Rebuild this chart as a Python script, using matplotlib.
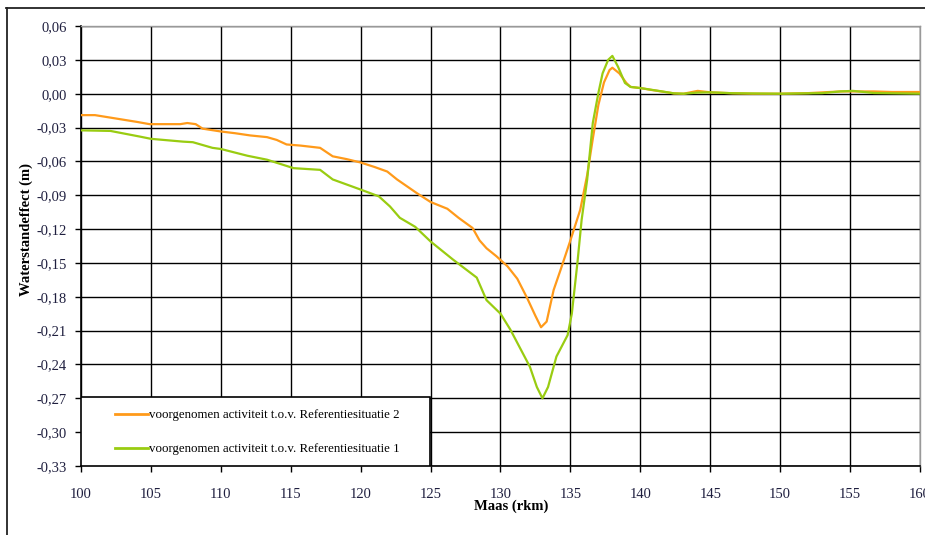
import matplotlib
matplotlib.use("Agg")
import matplotlib.pyplot as plt
from matplotlib.patches import Rectangle
from matplotlib.lines import Line2D
from matplotlib.ticker import FuncFormatter, MultipleLocator

# ---------------- data ----------------
km_ref2 = [100, 101, 102, 103, 104, 104.9, 106, 107.1, 107.6, 108.2, 108.7, 110, 111, 112.1,
           113.3, 114, 114.7, 115.7, 117.1, 118, 119, 120, 121, 121.9, 122.6, 123.3, 124,
           125, 126.2, 127, 128, 128.5, 129, 129.7, 130.5, 131.2, 131.9, 132.5, 132.9, 133.3,
           133.8, 134.3, 135, 135.7, 136.2, 136.6, 137, 137.4, 137.8, 138.0, 138.5, 139,
           139.3, 140, 140.8, 141.5, 142.4, 143.1, 144.1, 145, 146.6, 148, 150, 152, 154.3,
           155.2, 156.7, 158, 160]
wse_ref2 = [-0.019, -0.019, -0.021, -0.023, -0.025, -0.027, -0.027, -0.027, -0.026, -0.027,
            -0.031, -0.0335, -0.035, -0.037, -0.0385, -0.041, -0.045, -0.046, -0.048, -0.0555,
            -0.058, -0.061, -0.065, -0.069, -0.076, -0.082, -0.088, -0.096, -0.102, -0.110,
            -0.119, -0.130, -0.137, -0.144, -0.153, -0.164, -0.181, -0.197, -0.207, -0.202,
            -0.174, -0.156, -0.130, -0.103, -0.072, -0.040, -0.010, 0.010, 0.021, 0.023,
            0.018, 0.0095, 0.006, 0.005, 0.0033, 0.002, 0.0003, 0.0, 0.0025, 0.0012, 0.0004,
            0.0, 0.0, 0.0005, 0.002, 0.002, 0.002, 0.0015, 0.0015]

km_ref1 = [100, 102.1, 104.2, 105, 107.3, 108, 109.4, 110, 111.9, 113.3, 115.2, 117.1, 118,
           120, 121.3, 122.1, 122.8, 123.9, 125, 126.6, 128.3, 129, 130, 130.7, 132.1, 132.6,
           133.0, 133.4, 134, 134.8, 135.1, 135.5, 135.8, 136.2, 136.6, 137.0, 137.3, 137.7,
           138.0, 138.4, 138.9, 139.3, 140, 141.2, 142.4, 143.1, 144.1, 145, 146.6, 150, 153,
           154.3, 155.2, 156.7, 160]
wse_ref1 = [-0.0325, -0.033, -0.038, -0.040, -0.0425, -0.043, -0.048, -0.049, -0.055, -0.0585,
            -0.066, -0.0675, -0.076, -0.085, -0.091, -0.100, -0.110, -0.118, -0.131, -0.147,
            -0.163, -0.183, -0.195, -0.209, -0.242, -0.260, -0.270, -0.260, -0.233, -0.214,
            -0.195, -0.150, -0.112, -0.076, -0.026, 0.0006, 0.018, 0.030, 0.0335, 0.024,
            0.0095, 0.006, 0.005, 0.0027, 0.0003, 0.0, 0.001, 0.0012, 0.0004, 0.0, 0.0005,
            0.002, 0.0025, 0.0006, 0.0]

label_ref2 = "voorgenomen activiteit t.o.v. Referentiesituatie 2"
label_ref1 = "voorgenomen activiteit t.o.v. Referentiesituatie 1"
xlabel = "Maas (rkm)"
ylabel = "Waterstandeffect (m)"

# ---------------- style ----------------
plt.rcParams['font.family'] = ['Liberation Serif', 'DejaVu Serif']
c_orange = '#FF9A1A'
c_green = '#99CC11'
tick_col = '#1f1f3f'

fig = plt.figure(figsize=(9.25, 5.35), dpi=100)
ax = fig.add_axes([81 / 925, 1 - 466 / 535, (920 - 81) / 925, (466 - 26) / 535])

ax.plot(km_ref2, wse_ref2, color=c_orange, lw=1.6, zorder=4, solid_joinstyle='round')
ax.plot(km_ref1, wse_ref1, color=c_green, lw=1.6, zorder=4, solid_joinstyle='round')

ax.set_xlim(100, 160)
ax.set_ylim(-0.33, 0.06)
ax.xaxis.set_major_locator(MultipleLocator(5))
ax.yaxis.set_major_locator(MultipleLocator(0.03))
ax.yaxis.set_major_formatter(FuncFormatter(lambda v, p: f"{v:.2f}".replace('.', ',').replace('-0,00', '0,00')))
ax.xaxis.set_major_formatter(FuncFormatter(lambda v, p: f"{v:.0f}"))

ax.grid(True, color='black', lw=1.0, zorder=1)
ax.set_axisbelow(True)
for s in ['left', 'bottom']:
    ax.spines[s].set_color('black')
    ax.spines[s].set_linewidth(1.2)
for s in ['top', 'right']:
    ax.spines[s].set_color('#999999')
    ax.spines[s].set_linewidth(1.0)

ax.tick_params(axis='y', direction='out', length=4, width=1, pad=6, labelsize=10.5, labelcolor=tick_col)
ax.tick_params(axis='x', direction='out', length=4, width=1, pad=12, labelsize=10.5, labelcolor=tick_col)

ax.set_xlabel(xlabel, fontsize=10.5, fontweight='bold')
ax.set_ylabel(ylabel, fontsize=10.5, fontweight='bold')
ax.xaxis.set_label_coords((511 - 81) / 839, -(500 - 466) / 440)
ax.yaxis.set_label_coords(-(81 - 33) / 839, (466 - 230) / 440)

# legend box
ax.add_patch(Rectangle((0, 0), (430 - 81) / 839, (466 - 397) / 440, transform=ax.transAxes,
                       facecolor='white', edgecolor='black', lw=1.2, zorder=5))
handles = [Line2D([], [], color=c_orange, lw=2.0), Line2D([], [], color=c_green, lw=2.0)]
fs = 9.3
em = fs * 100 / 72
leg = ax.legend(handles, [label_ref2, label_ref1], loc='upper left',
                bbox_to_anchor=((115 - 81) / 839, (466 - 409) / 440), bbox_transform=ax.transAxes,
                frameon=False, borderpad=0, borderaxespad=0, fontsize=fs,
                handlelength=33 / em, handletextpad=1 / em, labelspacing=(35 - em) / em)
leg.set_zorder(6)

# outer frame
fig.add_artist(Line2D([6.5 / 925, 6.5 / 925], [0, 1 - 8 / 535], transform=fig.transFigure, color='#222222', lw=1.3))
fig.add_artist(Line2D([6 / 925, 1], [1 - 8 / 535, 1 - 8 / 535], transform=fig.transFigure, color='#222222', lw=1.3))

fig.savefig('out.png', dpi=100)
